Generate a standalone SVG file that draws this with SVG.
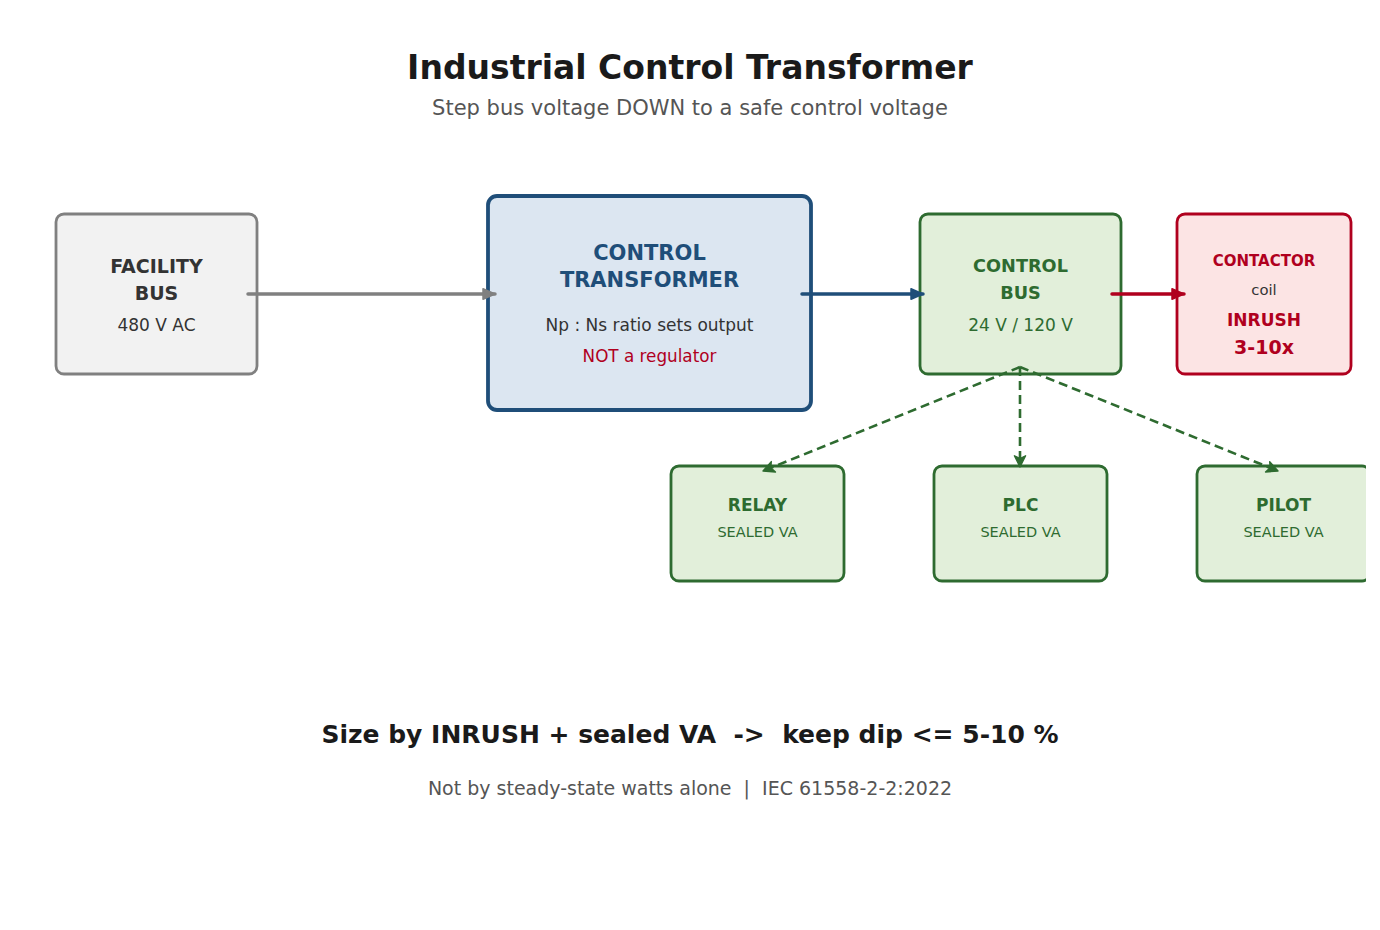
<svg xmlns="http://www.w3.org/2000/svg" width="1380" height="930" viewBox="0 0 1380 930">
<style>
text{font-family:"DejaVu Sans","Verdana",sans-serif;text-anchor:middle;dominant-baseline:central}
.box{stroke-width:2.8}
.t{font-weight:bold}
.conn{fill:none;stroke-width:3.5;stroke-linecap:round}
.dash{fill:none;stroke:#2e6b30;stroke-width:2.6;stroke-dasharray:9 5}
</style>
<defs>
<marker id="ag" viewBox="0 0 10 10" refX="9" refY="5" markerWidth="15" markerHeight="15" markerUnits="userSpaceOnUse" orient="auto"><path d="M1,1.5 L9,5 L1,8.5 z" fill="#808080" stroke="#808080" stroke-linejoin="round"/></marker>
<marker id="ab" viewBox="0 0 10 10" refX="9" refY="5" markerWidth="15" markerHeight="15" markerUnits="userSpaceOnUse" orient="auto"><path d="M1,1.5 L9,5 L1,8.5 z" fill="#1f4e79" stroke="#1f4e79" stroke-linejoin="round"/></marker>
<marker id="ar" viewBox="0 0 10 10" refX="9" refY="5" markerWidth="15" markerHeight="15" markerUnits="userSpaceOnUse" orient="auto"><path d="M1,1.5 L9,5 L1,8.5 z" fill="#b0001e" stroke="#b0001e" stroke-linejoin="round"/></marker>
<marker id="ad" viewBox="0 0 10 10" refX="9" refY="5" markerWidth="14" markerHeight="14" markerUnits="userSpaceOnUse" orient="auto"><path d="M1,1 L9,5 L1,9 L3,5 z" fill="#2e6b30" stroke="#2e6b30" stroke-linejoin="round"/></marker>
<clipPath id="clipR"><rect x="0" y="0" width="1366" height="930"/></clipPath>
</defs>
<rect width="1380" height="930" fill="#ffffff"/>
<g id="title">
<text x="690" y="67" font-size="33" class="t" fill="#1a1a1a">Industrial Control Transformer</text>
<text x="690" y="108" font-size="21" fill="#555555">Step bus voltage DOWN to a safe control voltage</text>
</g>
<g id="facility">
<rect class="box" x="56" y="214" width="201" height="160" rx="8" fill="#f2f2f2" stroke="#808080"/>
<text x="156.5" y="266" font-size="19" class="t" fill="#333333">FACILITY</text>
<text x="156.5" y="293" font-size="19" class="t" fill="#333333">BUS</text>
<text x="156.5" y="325" font-size="17" fill="#333333">480 V AC</text>
</g>
<g id="transformer">
<rect x="488" y="196" width="323" height="214" rx="9" fill="#dce6f1" stroke="#1f4e79" stroke-width="3.8"/>
<text x="649.5" y="253" font-size="21" class="t" fill="#1f4e79">CONTROL</text>
<text x="649.5" y="280" font-size="21" class="t" fill="#1f4e79">TRANSFORMER</text>
<text x="649.5" y="325" font-size="17" fill="#333333">Np : Ns ratio sets output</text>
<text x="649.5" y="356" font-size="16.8" fill="#b0001e">NOT a regulator</text>
</g>
<g id="controlbus">
<rect class="box" x="920" y="214" width="201" height="160" rx="8" fill="#e2efda" stroke="#2e6b30"/>
<text x="1020.5" y="266" font-size="17.7" class="t" fill="#2e6b30">CONTROL</text>
<text x="1020.5" y="293" font-size="17.7" class="t" fill="#2e6b30">BUS</text>
<text x="1020.5" y="325" font-size="17" fill="#2e6b30">24 V / 120 V</text>
</g>
<g id="contactor">
<rect class="box" x="1177" y="214" width="174" height="160" rx="8" fill="#fce4e4" stroke="#b0001e"/>
<text x="1264" y="261" font-size="15" class="t" fill="#b0001e">CONTACTOR</text>
<text x="1264" y="289" font-size="14.8" fill="#333333">coil</text>
<text x="1264" y="320" font-size="17" class="t" fill="#b0001e">INRUSH</text>
<text x="1264" y="347" font-size="19" class="t" fill="#b0001e">3-10x</text>
</g>
<g id="relay">
<rect class="box" x="671" y="466" width="173" height="115" rx="8" fill="#e2efda" stroke="#2e6b30"/>
<text x="757.5" y="505" font-size="17" class="t" fill="#2e6b30">RELAY</text>
<text x="757.5" y="532" font-size="14.5" fill="#2e6b30">SEALED VA</text>
</g>
<g id="plc">
<rect class="box" x="934" y="466" width="173" height="115" rx="8" fill="#e2efda" stroke="#2e6b30"/>
<text x="1020.5" y="505" font-size="17" class="t" fill="#2e6b30">PLC</text>
<text x="1020.5" y="532" font-size="14.5" fill="#2e6b30">SEALED VA</text>
</g>
<g id="pilot" clip-path="url(#clipR)">
<rect class="box" x="1197" y="466" width="173" height="115" rx="8" fill="#e2efda" stroke="#2e6b30"/>
<text x="1283.5" y="505" font-size="17" class="t" fill="#2e6b30">PILOT</text>
<text x="1283.5" y="532" font-size="14.5" fill="#2e6b30">SEALED VA</text>
</g>
<g id="connectors">
<line class="conn" x1="248" y1="294" x2="495" y2="294" stroke="#808080" marker-end="url(#ag)"/>
<line class="conn" x1="802" y1="294" x2="923" y2="294" stroke="#1f4e79" marker-end="url(#ab)"/>
<line class="conn" x1="1112" y1="294" x2="1184" y2="294" stroke="#b0001e" marker-end="url(#ar)"/>
<line class="dash" x1="1020" y1="367" x2="763" y2="471" marker-end="url(#ad)"/>
<line class="dash" x1="1020" y1="367" x2="1020" y2="467" marker-end="url(#ad)"/>
<line class="dash" x1="1020" y1="367" x2="1278" y2="471" marker-end="url(#ad)"/>
</g>
<g id="footer">
<text x="690" y="734" font-size="25" class="t" fill="#1a1a1a" xml:space="preserve">Size by INRUSH + sealed VA  -&gt;  keep dip &lt;= 5-10 %</text>
<text x="690" y="788" font-size="19" fill="#555555" xml:space="preserve">Not by steady-state watts alone  |  IEC 61558-2-2:2022</text>
</g>
</svg>
